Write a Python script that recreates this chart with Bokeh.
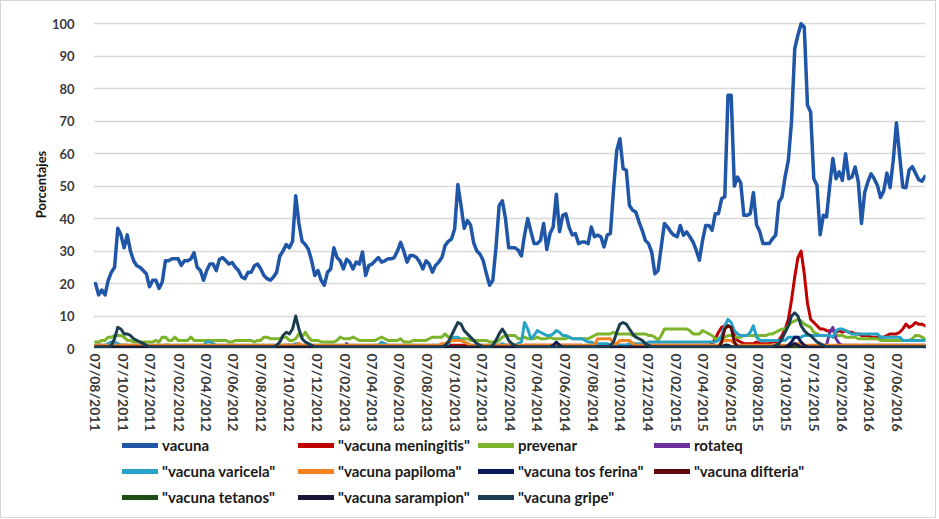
import pandas as pd
from bokeh.plotting import figure
from bokeh.layouts import column
from bokeh.models import Range1d, FixedTicker, DatetimeTickFormatter, Legend, LegendItem
from bokeh.embed import file_html
from bokeh.resources import INLINE

start_date = "2011-08-07"

series_labels = ['vacuna', '"vacuna meningitis"', 'prevenar', 'rotateq',
                 '"vacuna varicela"', '"vacuna papiloma"', '"vacuna tos ferina"', '"vacuna difteria"',
                 '"vacuna tetanos"', '"vacuna sarampion"', '"vacuna gripe"']

y_ticks = [0, 10, 20, 30, 40, 50, 60, 70, 80, 90, 100]

tick_labels = ["07/08/2011", "07/10/2011", "07/12/2011",
               "07/02/2012", "07/04/2012", "07/06/2012", "07/08/2012", "07/10/2012", "07/12/2012",
               "07/02/2013", "07/04/2013", "07/06/2013", "07/08/2013", "07/10/2013", "07/12/2013",
               "07/02/2014", "07/04/2014", "07/06/2014", "07/08/2014", "07/10/2014", "07/12/2014",
               "07/02/2015", "07/04/2015", "07/06/2015", "07/08/2015", "07/10/2015", "07/12/2015",
               "07/02/2016", "07/04/2016", "07/06/2016"]

vacuna = [
    20, 16.5, 18, 16.5, 21, 23.5, 25, 37, 35, 31,
    35, 30, 27, 25.5, 25, 24, 23, 19, 21, 21,
    18.5, 20.5, 27, 27, 27.6, 27.6, 27.6, 25.6, 27, 27,
    27.6, 29.5, 25, 24, 21, 24, 26, 26, 24, 27.5,
    28, 27, 26, 26.5, 25, 24, 22, 21.5, 23.5, 23.5,
    25.5, 26, 24.5, 22.5, 21.5, 21, 22, 23.5, 28.5, 30,
    32, 31, 33, 47, 38.5, 33, 32, 30.5, 27, 22.5,
    24, 21, 19.5, 23.5, 24.5, 31, 28, 27, 24.5, 27.5,
    26.6, 24.5, 26.6, 26, 29.7, 22.5, 25.6, 26, 27, 28,
    26.6, 27, 27.6, 27.6, 28, 30, 32.7, 30, 26.6, 28.6,
    28.6, 28, 26.6, 24.5, 27, 26, 23.5, 25.6, 26.6, 28,
    31.7, 33, 33.7, 36.8, 50.5, 44, 37, 39.4, 38, 32.5,
    30, 29, 27, 23, 19.5, 21, 31, 44, 45.5, 40,
    31, 31, 31, 30.3, 28.5, 35, 40, 36, 32.3, 32.3,
    33.3, 38.5, 30.5, 35.4, 37.4, 47.5, 36, 41, 41.5, 37.4,
    35, 35.4, 32.3, 32.8, 32.8, 32.3, 37.4, 34.4, 34.9, 34.4,
    31.3, 34.9, 35.4, 49, 61, 64.6, 55.4, 54.9, 44, 42.6,
    42, 39, 36.4, 33.3, 32.3, 29.7, 23, 24, 31.3, 38.5,
    37.4, 35.9, 34.9, 34.4, 37.9, 34.9, 35.9, 34.4, 32.8, 30.3,
    27.2, 33.3, 37.9, 37.9, 36.4, 41.5, 41.5, 46.1, 46.7, 78,
    78, 50, 52.8, 51, 41, 41, 41.5, 48, 38, 36,
    32.3, 32.3, 32.3, 33.8, 34.9, 45, 46.7, 53, 58, 70,
    92.3, 96.5, 100, 99, 75, 72.8, 52.3, 50.3, 35, 41,
    40.5, 50, 58.5, 52.3, 54.4, 51.8, 60, 52.3, 52.8, 55.9,
    51.3, 38.5, 48, 51.3, 53.8, 52.3, 50.3, 46.5, 48.5, 54,
    49.5, 58, 69.5, 59.5, 49.7, 49.5, 55, 56, 54, 52,
    51.5, 53]

meningitis = [
    1, 1, 1, 0, 0, 1, 1, 1, 1, 1,
    1, 0, 0, 0, 0, 1, 0, 0, 0, 0,
    0, 0, 1, 1, 0, 0, 0, 0, 1, 0,
    0, 0, 0, 1, 0, 0, 0, 0, 0, 1,
    0, 0, 0, 0, 1, 0, 0, 0, 0, 0,
    0, 1, 0, 0, 0, 0, 0, 1, 0, 1,
    1, 1, 1, 1, 1, 1, 0, 0, 0, 0,
    0, 0, 0, 1, 0, 0, 0, 0, 0, 0,
    0, 1, 0, 0, 0, 0, 0, 0, 1, 0,
    0, 0, 0, 0, 1, 0, 0, 0, 0, 0,
    1, 0, 0, 0, 0, 0, 1, 0, 0, 0,
    1, 1, 1, 1, 1, 1, 1, 1, 1, 0,
    0, 0, 0, 0, 0, 0, 1, 1, 1, 1,
    1, 0, 0, 0, 0, 1, 1, 1, 1, 1,
    1, 1, 1, 1, 1, 1, 1, 1, 1, 1,
    1, 1, 1, 1, 0, 1, 1, 1, 1, 1,
    1, 1, 1, 1, 1, 1, 1, 1, 1, 1,
    1, 1, 1, 1, 1, 1, 1, 1, 1, 1,
    1, 1, 1, 1, 1, 1, 1, 1, 1, 1,
    1, 1, 1, 1, 1.5, 3, 5, 6.5, 7, 7,
    6.5, 4, 2.5, 2, 1.5, 1.5, 1.5, 1.5, 2, 1.5,
    1.5, 1.5, 1.5, 2, 2, 2.5, 4, 6, 9, 15,
    22, 28, 30, 23, 14, 9, 8, 7, 6, 6,
    5.5, 5.5, 5.5, 5, 5.5, 5, 5.5, 5, 5, 4.5,
    4.5, 4, 4, 4, 3.5, 3.5, 3.5, 3.5, 3.5, 4,
    4.5, 4.5, 4.5, 5, 6, 7.5, 6.5, 7, 8, 7.5,
    7.5, 7]

prevenar = [
    2, 2, 2.5, 2.5, 3.5, 3.5, 4, 4, 4, 3.5,
    2.5, 2.5, 2, 2, 2, 2, 2, 2, 2, 2.5,
    2, 3.5, 3.5, 2.5, 2.5, 3.5, 2.5, 2.5, 2.5, 2.5,
    3.5, 2.5, 2.5, 2.5, 2.5, 2.5, 2.5, 2.5, 2.5, 2.5,
    2.5, 2.5, 2, 2, 2.5, 2.5, 2.5, 2.5, 2.5, 2.5,
    2, 2.5, 2.5, 3.5, 3.5, 3, 3, 3, 3, 3.5,
    3.5, 2.5, 2.5, 3, 4.5, 3.5, 5, 3.5, 2.5, 2.5,
    2.5, 2, 2, 2, 2, 2, 2.5, 3.5, 3, 3,
    3, 3.5, 3, 2.5, 2.5, 2.5, 2.5, 2.5, 2.5, 3,
    3.5, 3, 2.5, 2.5, 2.5, 2.5, 3, 2, 2, 2,
    2.5, 2.5, 2.5, 2.5, 2.5, 3, 3.5, 3.5, 3.5, 3.5,
    4.5, 3.5, 3.5, 3, 3, 3, 3, 3, 2.5, 2.5,
    2.5, 2.5, 2.5, 2.5, 2, 2, 2, 2.5, 3.5, 4,
    4, 4, 4, 3, 3, 3.5, 3, 3, 3, 3.5,
    3, 3, 3, 3.5, 3, 3, 3, 3, 3, 3.5,
    3, 3, 3, 3, 3, 3, 3.5, 4, 4.5, 4.5,
    4.5, 4.5, 4.5, 5, 4.5, 4.5, 4.5, 4.5, 4.5, 4,
    4.5, 4.5, 4.5, 4.5, 4, 4, 3.5, 2.5, 4, 6,
    6, 6, 6, 6, 6, 6, 6, 5.5, 4.5, 4.5,
    4.5, 5.5, 5, 4.5, 4, 3, 3, 3.5, 3.5, 4,
    4, 3.5, 3.5, 3.5, 4, 4, 4, 4, 4, 4,
    4, 4, 4.5, 4.5, 5, 5.5, 6, 6, 7, 8,
    8.5, 9, 8.5, 7.5, 7, 6.5, 5, 4.5, 4, 4,
    4, 4, 3.5, 4, 4, 4, 3.5, 3.5, 3.5, 3.5,
    3, 3, 3, 3, 3, 3, 3, 2.5, 2.5, 2.5,
    2.5, 2.5, 2.5, 2.5, 2.5, 2.5, 2.5, 3, 4, 4,
    3.5, 3]

rotateq = [
    0, 0, 0, 0, 0, 0, 0, 0, 0, 0,
    0, 0, 0, 0, 0, 0, 0, 0, 0, 0,
    0, 0, 0, 0, 0, 0, 0, 0, 0, 0,
    0, 0, 0, 0, 0, 0, 0, 0, 0, 0,
    0, 0, 0, 0, 0, 0, 0, 0, 0, 0,
    0, 0, 0, 0, 0, 0, 0, 0, 0, 0,
    0, 0, 0, 0, 0, 0, 0, 0, 0, 0,
    0, 0, 0, 0, 0, 0, 0, 0, 0, 1.5,
    0, 0, 0, 0, 0, 0, 0, 0, 0, 0,
    0, 0, 0, 0, 0, 0, 0, 0, 0, 0,
    1, 0, 0, 0, 0, 0, 0, 0, 0, 0,
    0, 0, 0, 0, 0, 0, 0, 0, 0, 0,
    0, 0, 0, 0, 0, 1, 0, 0, 0, 0,
    0, 0, 0, 0, 0, 0, 0, 0, 0, 0,
    0, 0, 0, 0, 0, 1, 0, 0, 0, 0,
    0, 0, 0, 0, 0, 0, 0, 0, 0, 0,
    0, 0, 0, 0, 0, 0, 0, 0, 0, 0,
    0, 0, 0, 0, 0, 0, 0, 0, 0, 0,
    0, 0, 0, 0, 0, 0, 0, 0, 0, 0,
    0, 0, 0, 0, 0, 0, 0, 0, 0, 0,
    0, 0, 0, 0, 0, 0, 0, 0, 0, 0,
    0, 0, 0, 0, 0, 0, 0, 0, 0, 0,
    0, 0, 0, 0, 0, 0, 0, 0, 0, 1,
    1, 5, 6.5, 3, 1.5, 1, 1, 1, 1, 1,
    1, 1, 1, 1, 1, 1, 1, 1, 1, 1,
    1, 1, 1, 1, 1, 1, 1, 1, 1, 1,
    1, 1]

varicela = [
    1, 1, 1, 1, 1.5, 2, 2, 1.5, 1, 1,
    1, 1, 1, 1, 1, 1, 1, 1, 1, 1,
    1, 1, 1, 1, 1, 1, 1, 1, 1, 1,
    1, 1, 1, 1, 1, 2, 2, 1.5, 1, 1,
    1, 1, 1, 1, 1, 1, 1, 1, 1, 1,
    1, 1, 1, 1, 1, 1, 1, 1, 1, 1,
    1, 1, 1, 1.5, 1.5, 1, 1, 1, 1, 1,
    1, 1, 1, 1, 1, 1, 1, 1, 1, 1,
    1, 1, 1, 1, 1, 1, 1, 1, 1, 1,
    2, 1.5, 1, 1, 1, 1, 1, 1, 1, 1,
    1, 1, 1, 1, 1, 1, 1, 1, 1, 1,
    1, 1.5, 2.5, 3.5, 3.5, 2.5, 2, 1.5, 1, 1,
    1, 1, 1, 1, 1, 1, 1, 1, 1.5, 1,
    1, 1, 1, 1.5, 2, 8, 6, 3, 4, 5.5,
    5, 4.5, 4, 4, 4.5, 5.5, 5, 4, 4, 3.5,
    3, 3, 3, 3, 2.5, 2, 2, 1.5, 1.5, 1.5,
    1.5, 1.5, 1, 1, 1, 1, 1, 1, 1.5, 1.5,
    1.5, 1.5, 1.5, 1.5, 2, 2, 2, 2, 2, 2,
    2, 2, 2, 2, 2, 2, 2, 2, 2, 2,
    2, 2, 2, 2, 2, 2, 2.5, 4, 7, 9,
    8, 5.5, 4.5, 4, 4, 4, 5, 7, 3.5, 2.5,
    2.5, 2.5, 2.5, 2.5, 2.5, 2.5, 2.5, 2.5, 3.5, 3.5,
    3.5, 3.5, 3.5, 4, 4, 4, 4, 4, 4, 4,
    4, 4, 3.5, 5.5, 6, 6, 5.5, 5, 4.5, 4.5,
    4.5, 4.5, 4.5, 4.5, 4.5, 4.5, 4.5, 3.5, 3.5, 3.5,
    3.5, 3.5, 3.5, 3.5, 2.5, 2.5, 2.5, 2.5, 2.5, 2.5,
    2.5, 2.5]

papiloma = [
    1, 1, 1, 1, 1, 1, 1, 1, 1, 1,
    1, 1, 1, 1, 1, 1, 1, 1, 1, 1,
    1, 1, 1, 1, 1, 1, 1, 1, 1, 1,
    1, 1, 1, 1, 1, 1, 1, 1, 1, 1,
    1, 1, 1, 1, 1, 1, 1, 1, 1, 1,
    1, 1, 1, 1, 1, 1, 1, 1, 1, 1,
    1, 1, 1, 1, 1.5, 1, 1, 1, 1, 1,
    1, 1, 1, 1, 1, 1, 1, 1, 1, 1,
    1, 1, 1, 1, 1, 1, 1, 1, 1, 1,
    1, 1, 1, 1, 1, 1, 1, 1, 1, 1,
    1, 1, 1, 1, 1, 1, 1, 1, 1, 1.5,
    1.5, 2, 2.5, 2.5, 2.5, 2.5, 2, 1.5, 1, 1,
    1, 1, 1, 1, 1, 1, 1, 1, 1, 1,
    1, 1, 1, 1, 1, 1, 1, 1, 1, 1,
    1, 1, 1, 1, 1, 1, 1, 1, 1, 1,
    1, 1, 1, 1, 1, 1, 1, 1, 3, 3,
    3, 3, 3, 1.5, 1.5, 2.5, 2.5, 2.5, 2.5, 1.5,
    1, 1, 1, 1, 1, 1, 1, 1, 1, 1,
    1, 1, 1, 1, 1, 1, 1, 1, 1, 1,
    1, 1, 1, 1, 1, 1, 1, 2, 2.5, 2.5,
    2.5, 1.5, 1, 1, 1, 1, 1, 1, 1, 1,
    1, 1, 1, 1, 1, 1, 1, 1, 1, 1,
    1.5, 1.5, 1.5, 1, 1, 1, 1, 1, 1, 1,
    1, 1, 1, 1, 1, 1, 1, 1, 1, 1,
    1, 1, 1, 1, 1, 1, 1, 1, 1, 1,
    1, 1, 1, 1, 1, 1, 1, 1, 1, 1,
    1, 1]

tos_ferina = [
    0.5, 0.5, 0.5, 0.5, 0.5, 0.5, 0.5, 0.5, 0.5, 0.5,
    0.5, 0.5, 0.5, 0.5, 0.5, 0.5, 0.5, 0.5, 0.5, 0.5,
    0.5, 0.5, 0.5, 0.5, 0.5, 0.5, 0.5, 0.5, 0.5, 0.5,
    0.5, 0.5, 0.5, 0.5, 0.5, 0.5, 0.5, 0.5, 0.5, 0.5,
    0.5, 0.5, 0.5, 0.5, 0.5, 0.5, 0.5, 0.5, 0.5, 0.5,
    0.5, 0.5, 0.5, 0.5, 0.5, 0.5, 0.5, 0.5, 0.5, 0.5,
    0.5, 0.5, 0.5, 0.5, 0.5, 0.5, 0.5, 0.5, 0.5, 0.5,
    0.5, 0.5, 0.5, 0.5, 0.5, 0.5, 0.5, 0.5, 0.5, 0.5,
    0.5, 0.5, 0.5, 0.5, 0.5, 0.5, 0.5, 0.5, 0.5, 0.5,
    0.5, 0.5, 0.5, 0.5, 0.5, 0.5, 0.5, 0.5, 0.5, 0.5,
    0.5, 0.5, 0.5, 0.5, 0.5, 0.5, 0.5, 0.5, 0.5, 0.5,
    0.5, 0.5, 0.5, 0.5, 0.5, 0.5, 0.5, 0.5, 0.5, 0.5,
    0.5, 0.5, 0.5, 0.5, 0.5, 0.5, 0.5, 0.5, 0.5, 0.5,
    0.5, 0.5, 0.5, 0.5, 0.5, 0.5, 0.5, 0.5, 0.5, 0.5,
    0.5, 0.5, 0.5, 0.5, 1, 2, 1, 0.5, 0.5, 0.5,
    0.5, 0.5, 0.5, 0.5, 0.5, 0.5, 0.5, 0.5, 0.5, 0.5,
    0.5, 0.5, 0.5, 0.5, 0.5, 0.5, 0.5, 0.5, 0.5, 0.5,
    0.5, 0.5, 0.5, 0.5, 0.5, 0.5, 0.5, 0.5, 0.5, 0.5,
    0.5, 0.5, 0.5, 0.5, 0.5, 0.5, 0.5, 0.5, 0.5, 0.5,
    0.5, 0.5, 0.5, 0.5, 0.5, 0.5, 0.5, 0.5, 0.5, 0.5,
    0.5, 0.5, 0.5, 0.5, 0.5, 0.5, 0.5, 0.5, 0.5, 0.5,
    0.5, 0.5, 0.5, 0.5, 0.5, 0.5, 0.5, 0.5, 1, 2,
    3.5, 3.5, 2, 1, 0.5, 0.5, 0.5, 0.5, 0.5, 0.5,
    0.5, 0.5, 0.5, 0.5, 0.5, 0.5, 0.5, 0.5, 0.5, 0.5,
    0.5, 0.5, 0.5, 0.5, 0.5, 0.5, 0.5, 0.5, 0.5, 0.5,
    0.5, 0.5, 0.5, 0.5, 0.5, 0.5, 0.5, 0.5, 0.5, 0.5,
    0.5, 0.5]

difteria = [
    0, 0, 0, 0, 0, 0, 0, 0, 0, 0,
    0, 0, 0, 0, 0, 0, 0, 0, 0, 0,
    0, 0, 0, 0, 0, 0, 0, 0, 0, 0,
    0, 0, 0, 0, 0, 0, 0, 0, 0, 0,
    0, 0, 0, 0, 0, 0, 0, 0, 0, 0,
    0, 0, 0, 0, 0, 0, 0, 0, 0, 0,
    0, 0, 0, 0, 0, 0, 0, 0, 0, 0,
    0, 0, 0, 0, 0, 0, 0, 0, 0, 0,
    0, 0, 0, 0, 0, 0, 0, 0, 0, 0,
    0, 0, 0, 0, 0, 0, 0, 0, 0, 0,
    0, 0, 0, 0, 0, 0, 0, 0, 0, 0,
    0, 0, 0, 0, 0, 0, 0, 0, 0, 0,
    0, 0, 0, 0, 0, 0, 0, 0, 0, 0,
    0, 0, 0, 0, 0, 0, 0, 0, 0, 0,
    0, 0, 0, 0, 0, 0, 0, 0, 0, 0,
    0, 0, 0, 0, 0, 0, 0, 0, 0, 0,
    0, 0, 0, 0, 0, 0, 0, 0, 0, 0,
    0, 0, 0, 0, 0, 0, 0, 0, 0, 0,
    0, 0, 0, 0, 0, 0, 0, 0, 0, 0,
    0, 0, 0, 0, 0, 0, 0, 2, 6, 7,
    6.5, 2, 0.5, 0, 0, 0, 0, 0, 0, 0,
    0, 0, 0, 0, 0, 0, 0, 0, 0, 0,
    0, 0, 0, 0, 0, 0, 0, 0, 0, 0,
    0, 0, 0, 0, 0, 0, 0, 0, 0, 0,
    0, 0, 0, 0, 0, 0, 0, 0, 0, 0,
    0, 0, 0, 0, 0, 0, 0, 0, 0, 0,
    0, 0]

tetanos = [
    0.3, 0.3, 0.3, 0.3, 0.3, 0.3, 0.5, 0.5, 0.3, 0.3,
    0.3, 0.3, 0.3, 0.3, 0.3, 0.3, 0.3, 0.3, 0.3, 0.3,
    0.3, 0.3, 0.3, 0.3, 0.3, 0.3, 0.3, 0.3, 0.3, 0.3,
    0.3, 0.3, 0.3, 0.3, 0.3, 0.3, 0.3, 0.3, 0.3, 0.3,
    0.3, 0.3, 0.3, 0.3, 0.3, 0.3, 0.3, 0.3, 0.3, 0.3,
    0.3, 0.3, 0.3, 0.3, 0.3, 0.3, 0.3, 0.3, 0.3, 0.3,
    0.3, 0.3, 0.3, 0.5, 0.3, 0.3, 0.3, 0.3, 0.3, 0.3,
    0.3, 0.3, 0.3, 0.3, 0.3, 0.3, 0.3, 0.3, 0.3, 0.3,
    0.3, 0.3, 0.3, 0.3, 0.3, 0.3, 0.3, 0.3, 0.3, 0.3,
    0.3, 0.3, 0.3, 0.3, 0.3, 0.3, 0.3, 0.3, 0.3, 0.3,
    0.3, 0.3, 0.3, 0.3, 0.3, 0.3, 0.3, 0.3, 0.3, 0.3,
    0.3, 0.3, 0.3, 0.3, 0.5, 0.3, 0.3, 0.3, 0.3, 0.3,
    0.3, 0.3, 0.3, 0.3, 0.3, 0.3, 0.3, 0.3, 0.3, 0.3,
    0.3, 0.3, 0.3, 0.3, 0.3, 0.3, 0.3, 0.3, 0.3, 0.3,
    0.3, 0.3, 0.3, 0.3, 0.3, 0.3, 0.3, 0.3, 0.3, 0.3,
    0.3, 0.3, 0.3, 0.3, 0.3, 0.3, 0.3, 0.3, 0.3, 0.3,
    0.3, 0.3, 0.3, 0.3, 0.3, 0.5, 0.3, 0.3, 0.3, 0.3,
    0.3, 0.3, 0.3, 0.3, 0.3, 0.3, 0.3, 0.3, 0.3, 0.3,
    0.3, 0.3, 0.3, 0.3, 0.3, 0.3, 0.3, 0.3, 0.3, 0.3,
    0.3, 0.3, 0.3, 0.3, 0.3, 0.3, 0.3, 0.5, 1, 1,
    0.5, 0.3, 0.3, 0.3, 0.3, 0.3, 0.3, 0.3, 0.3, 0.3,
    0.3, 0.3, 0.3, 0.3, 0.3, 0.3, 0.3, 0.3, 0.3, 0.5,
    0.5, 0.5, 0.3, 0.3, 0.3, 0.3, 0.3, 0.3, 0.3, 0.3,
    0.3, 0.3, 0.3, 0.3, 0.3, 0.3, 0.3, 0.3, 0.3, 0.3,
    0.3, 0.3, 0.3, 0.3, 0.3, 0.3, 0.3, 0.3, 0.3, 0.3,
    0.3, 0.3, 0.3, 0.3, 0.3, 0.3, 0.3, 0.3, 0.3, 0.3,
    0.3, 0.3]

sarampion = [
    0.2, 0.2, 0.2, 0.2, 0.2, 0.2, 0.2, 0.2, 0.2, 0.2,
    0.2, 0.2, 0.2, 0.2, 0.2, 0.2, 0.2, 0.2, 0.2, 0.2,
    0.2, 0.2, 0.2, 0.2, 0.2, 0.2, 0.2, 0.2, 0.2, 0.2,
    0.2, 0.2, 0.2, 0.2, 0.2, 0.2, 0.2, 0.2, 0.2, 0.2,
    0.2, 0.2, 0.2, 0.2, 0.2, 0.2, 0.2, 0.2, 0.2, 0.2,
    0.2, 0.2, 0.2, 0.2, 0.2, 0.2, 0.2, 0.2, 0.2, 0.2,
    0.2, 0.2, 0.2, 0.2, 0.2, 0.2, 0.2, 0.2, 0.2, 0.2,
    0.2, 0.2, 0.2, 0.2, 0.2, 0.2, 0.2, 0.2, 0.2, 0.2,
    0.2, 0.2, 0.2, 0.2, 0.2, 0.2, 0.2, 0.2, 0.2, 0.2,
    0.2, 0.2, 0.2, 0.2, 0.2, 0.2, 0.2, 0.2, 0.2, 0.2,
    0.2, 0.2, 0.2, 0.2, 0.2, 0.2, 0.2, 0.2, 0.2, 0.2,
    0.2, 0.2, 0.2, 0.2, 0.2, 0.2, 0.2, 0.2, 0.2, 0.2,
    0.2, 0.2, 0.2, 0.2, 0.2, 0.2, 0.2, 0.2, 0.2, 0.2,
    0.2, 0.2, 0.2, 0.2, 0.2, 0.2, 0.2, 0.2, 0.2, 0.2,
    0.2, 0.2, 0.2, 0.2, 0.2, 0.2, 0.2, 0.2, 0.2, 0.2,
    0.2, 0.2, 0.2, 0.2, 0.2, 0.2, 0.2, 0.2, 0.2, 0.2,
    0.2, 0.2, 0.2, 0.2, 0.2, 0.2, 0.2, 0.2, 0.2, 0.2,
    0.2, 0.2, 0.2, 0.2, 0.2, 0.2, 0.2, 0.2, 0.2, 0.2,
    0.2, 0.2, 0.2, 0.2, 0.2, 0.2, 0.2, 0.2, 0.2, 0.2,
    0.2, 0.2, 0.2, 0.2, 0.2, 0.2, 0.2, 0.5, 1, 1,
    0.5, 0.2, 0.2, 0.2, 0.2, 0.2, 0.2, 0.2, 0.2, 0.2,
    0.2, 0.2, 0.2, 0.2, 0.2, 0.2, 0.2, 0.2, 0.5, 1,
    1.5, 1, 0.5, 0.2, 0.2, 0.2, 0.2, 0.2, 0.2, 0.2,
    0.2, 0.2, 0.2, 0.2, 0.2, 0.2, 0.2, 0.2, 0.2, 0.2,
    0.2, 0.2, 0.2, 0.2, 0.2, 0.2, 0.2, 0.2, 0.2, 0.2,
    0.2, 0.2, 0.2, 0.2, 0.2, 0.2, 0.2, 0.2, 0.2, 0.2,
    0.2, 0.2]

gripe = [
    0.5, 0.5, 0.5, 0.5, 0.5, 1, 3, 6.5, 6, 4.5,
    4.5, 4, 3, 2.5, 2, 1.5, 1, 0.5, 0.5, 0.5,
    0.5, 0.5, 0.5, 0.5, 0.5, 0.5, 0.5, 0.5, 0.5, 0.5,
    0.5, 0.5, 0.5, 0.5, 0.5, 0.5, 0.5, 0.5, 0.5, 0.5,
    0.5, 0.5, 0.5, 0.5, 0.5, 0.5, 0.5, 0.5, 0.5, 0.5,
    0.5, 0.5, 0.5, 0.5, 0.5, 0.5, 0.5, 1, 2, 4,
    5, 4.5, 6, 10, 6, 3, 2, 1.5, 1, 0.5,
    0.5, 0.5, 0.5, 0.5, 0.5, 0.5, 0.5, 0.5, 0.5, 0.5,
    0.5, 0.5, 0.5, 0.5, 0.5, 0.5, 0.5, 0.5, 0.5, 0.5,
    0.5, 0.5, 0.5, 0.5, 0.5, 0.5, 0.5, 0.5, 0.5, 0.5,
    0.5, 0.5, 0.5, 0.5, 0.5, 0.5, 0.5, 0.5, 0.5, 0.5,
    1, 2, 4, 6, 8, 7.5, 5.5, 4.5, 3.5, 2.5,
    1.5, 1, 0.5, 0.5, 0.5, 1, 2.5, 4.5, 6, 4.5,
    2.5, 1.5, 1, 0.5, 0.5, 0.5, 0.5, 0.5, 0.5, 0.5,
    0.5, 0.5, 0.5, 0.5, 0.5, 0.5, 0.5, 0.5, 0.5, 0.5,
    0.5, 0.5, 0.5, 0.5, 0.5, 0.5, 0.5, 0.5, 0.5, 0.5,
    0.5, 0.5, 1, 2, 5, 7.5, 8, 7.5, 6, 4.5,
    3.5, 3, 2.5, 1.5, 1, 0.5, 0.5, 0.5, 0.5, 0.5,
    0.5, 0.5, 0.5, 0.5, 0.5, 0.5, 0.5, 0.5, 0.5, 0.5,
    0.5, 0.5, 0.5, 0.5, 0.5, 0.5, 0.5, 0.5, 0.5, 0.5,
    0.5, 0.5, 0.5, 0.5, 0.5, 0.5, 0.5, 0.5, 0.5, 0.5,
    0.5, 0.5, 0.5, 0.5, 1, 1.5, 3, 5, 7, 10,
    11, 10, 7, 5.5, 4.5, 4, 3, 2, 1.5, 1,
    0.5, 0.5, 0.5, 0.5, 0.5, 0.5, 0.5, 0.5, 0.5, 0.5,
    0.5, 0.5, 0.5, 0.5, 0.5, 0.5, 0.5, 0.5, 0.5, 0.5,
    0.5, 0.5, 0.5, 0.5, 0.5, 0.5, 0.5, 0.5, 0.5, 0.5,
    0.5, 0.5]

all_series = [vacuna, meningitis, prevenar, rotateq, varicela, papiloma,
              tos_ferina, difteria, tetanos, sarampion, gripe]
lengths = [len(s) for s in all_series]
if len(set(lengths)) != 1:
    raise SystemExit("length mismatch: %s" % lengths)

colors = ["#1f56a8", "#c00000", "#7cb52b", "#6b2fa0", "#27a3c8", "#f68220",
          "#0d1a57", "#5c0b0b", "#1f4d14", "#1a1838", "#1a3d4f"]
widths = [3.5, 3, 3, 3, 3, 3, 3, 3, 3, 3, 3]

dates = pd.date_range(start_date, periods=len(vacuna), freq="7D")
tick_dates = pd.to_datetime(tick_labels, format="%d/%m/%Y")
tick_ms = [d.timestamp() * 1000 for d in tick_dates]

FONT = "Lato"
W = 934
PH = 434
LH = 82

# ---------------- main chart ----------------
p = figure(width=W, height=PH, x_axis_type="datetime",
           output_backend="svg", toolbar_location=None,
           x_range=Range1d(dates[0] - pd.Timedelta(days=4.4), dates[-1] + pd.Timedelta(days=1)),
           y_range=Range1d(0, 101),
           min_border_left=92, min_border_right=10, min_border_top=19, min_border_bottom=PH - 347)
p.outline_line_color = None
p.background_fill_color = "white"
p.border_fill_color = "white"

for s, c, w in zip(all_series, colors, widths):
    p.line(dates, s, line_color=c, line_width=w, line_join="round", line_cap="round")

p.xgrid.visible = False
p.ygrid.grid_line_color = "#d9d9d9"
p.ygrid.grid_line_width = 1.5

p.yaxis.ticker = FixedTicker(ticks=y_ticks)
p.yaxis.axis_line_color = None
p.yaxis.major_tick_line_color = None
p.yaxis.minor_tick_line_color = None
p.yaxis.major_label_text_font = FONT
p.yaxis.major_label_text_font_style = "bold"
p.yaxis.major_label_text_font_size = "13px"
p.yaxis.major_label_text_color = "#3a3a3a"
p.yaxis.major_label_standoff = 13
p.yaxis.axis_label = "Porcentajes"
p.yaxis.axis_label_text_font = FONT
p.yaxis.axis_label_text_font_style = "bold"
p.yaxis.axis_label_text_font_size = "13px"
p.yaxis.axis_label_text_color = "#111111"
p.yaxis.axis_label_standoff = 0

p.xaxis.ticker = FixedTicker(ticks=tick_ms)
fmt = "%d/%m/%Y"
p.xaxis.formatter = DatetimeTickFormatter(days=fmt, months=fmt, years=fmt, hours=fmt,
                                          minutes=fmt, seconds=fmt, milliseconds=fmt,
                                          microseconds=fmt, minsec=fmt, hourmin=fmt)
p.xaxis.major_label_orientation = "vertical"
p.xaxis.axis_line_color = "#d9d9d9"
p.xaxis.major_tick_line_color = None
p.xaxis.minor_tick_line_color = None
p.xaxis.major_tick_out = 0
p.xaxis.major_tick_in = 0
p.xaxis.major_label_standoff = 5
p.xaxis.major_label_text_font = FONT
p.xaxis.major_label_text_font_style = "bold"
p.xaxis.major_label_text_font_size = "14px"
p.xaxis.major_label_text_color = "#3a3a3a"

# ---------------- legend strip ----------------
# The legend lives in its own strip below the chart; its line renderers carry the
# same series but fall outside this strip's (0..1) ranges, so only the legend shows.
q = figure(width=W, height=LH, output_backend="svg", toolbar_location=None,
           x_range=Range1d(0, 1), y_range=Range1d(0, 1),
           min_border_left=0, min_border_right=0, min_border_top=0, min_border_bottom=0)
q.axis.visible = False
q.grid.visible = False
q.outline_line_color = None
q.background_fill_color = "white"
q.border_fill_color = "white"

items = []
for lab, s, c in zip(series_labels, all_series, colors):
    rr = q.line(dates, s, line_color=c, line_width=5, line_cap="round")
    items.append(LegendItem(label=lab, renderers=[rr]))

legend = Legend(items=items, location=(29, 11), orientation="horizontal", ncols=4,
                glyph_width=36, glyph_height=18, label_height=18, label_width=128,
                label_standoff=4, spacing=8, padding=0, margin=0,
                border_line_color=None, background_fill_alpha=0,
                label_text_font=FONT, label_text_font_style="bold",
                label_text_font_size="15px", label_text_color="#1a1a1a")
q.add_layout(legend)

layout = column(p, q, spacing=0, styles={"border": "1px solid #d6d6d6"})

open("out.html", "w").write(file_html(layout, INLINE))
